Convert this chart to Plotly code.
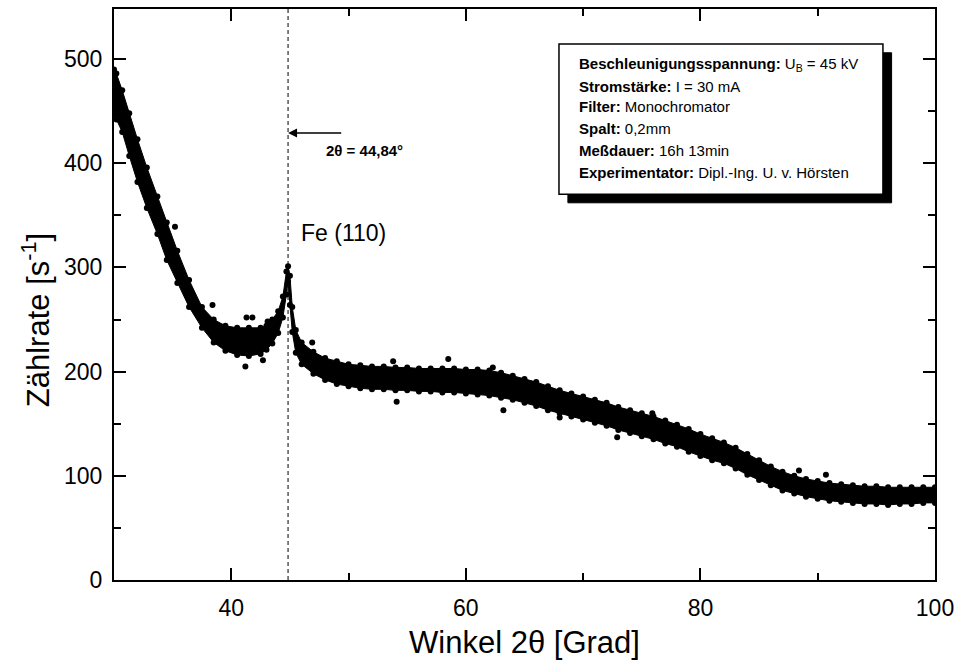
import plotly.graph_objects as go

winkel = [30.0, 30.2, 30.7, 31.3, 32.0, 32.8, 33.7, 34.5, 35.4, 36.4, 37.5, 38.5,
          39.5, 40.5, 41.5, 42.5, 43.0, 43.5, 44.0, 44.4, 44.7, 44.84, 45.0, 45.2,
          45.5, 46, 47, 48, 49, 50, 51, 52, 53, 54, 55, 56, 57, 58, 59, 60, 61, 62,
          63, 64, 65, 66, 67, 68, 69, 70, 71, 72, 73, 74, 75, 76, 77, 78, 79, 80,
          81, 82, 83, 84, 85, 86, 87, 88, 89, 90, 91, 92, 93, 94, 95, 96, 97, 98,
          99, 100]
oben = [490, 486, 470, 448, 423, 396, 368, 343, 316, 288, 262, 250,
        244, 242, 242, 242, 244, 250, 258, 272, 296, 301, 292, 262,
        240, 228, 219, 213, 210, 207, 206, 205, 205, 204, 204, 203, 203, 203, 203, 202, 202, 201,
        199, 196, 193, 190, 186, 182, 179, 176, 173, 170, 166, 163, 160, 157, 153, 149, 145, 140,
        136, 132, 127, 121, 115, 109, 104, 100, 97, 95, 93, 92, 91, 90, 90, 89, 89, 89,
        89, 89]
unten = [447, 442, 430, 407, 382, 357, 332, 307, 285, 262, 242, 228,
         220, 216, 215, 217, 221, 227, 237, 252, 274, 286, 264, 238,
         218, 207, 198, 192, 188, 186, 184, 183, 183, 182, 182, 181, 181, 180, 180, 179, 178, 177,
         175, 173, 170, 167, 163, 160, 157, 154, 151, 148, 144, 141, 138, 135, 131, 128, 123, 119,
         115, 112, 107, 101, 96, 91, 86, 83, 80, 78, 76, 75, 74, 73, 73, 72, 73, 73,
         74, 74]
ausreisser_x = [35.2, 38.4, 41.2, 41.3, 41.8, 43.1, 42.7, 46.9, 53.8, 58.5, 54.1, 63.2,
                62.3, 75.9, 72.9, 68.0, 90.7, 88.4]
ausreisser_y = [339, 264, 205, 252, 252, 248, 211, 228, 210, 212, 171, 163,
                204, 160, 137, 156, 101, 105]

peak_pos = 44.84
x_ticks = [40, 60, 80, 100]
y_ticks = [0, 100, 200, 300, 400, 500]
info_lines = [
    "<b>Beschleunigungsspannung:</b> U<sub>B</sub> = 45 kV",
    "<b>Stromstärke:</b> I = 30 mA",
    "<b>Filter:</b> Monochromator",
    "<b>Spalt:</b> 0,2mm",
    "<b>Meßdauer:</b> 16h 13min",
    "<b>Experimentator:</b> Dipl.-Ing. U. v. Hörsten",
]

FONT = "Liberation Sans, Arial, Helvetica, sans-serif"

fig = go.Figure()
fig.add_trace(go.Scatter(x=winkel, y=unten, mode="lines",
                         line=dict(color="black", width=1), showlegend=False,
                         hoverinfo="skip"))
fig.add_trace(go.Scatter(x=winkel, y=oben, mode="lines", fill="tonexty",
                         fillcolor="black", line=dict(color="black", width=1),
                         showlegend=False, hoverinfo="skip"))
fig.add_trace(go.Scatter(x=winkel + winkel, y=oben + unten, mode="markers",
                         marker=dict(color="black", size=6), showlegend=False))
fig.add_trace(go.Scatter(x=ausreisser_x, y=ausreisser_y, mode="markers",
                         marker=dict(color="black", size=6), showlegend=False))

# dashed marker line at the peak
fig.add_trace(go.Scatter(x=[peak_pos, peak_pos], y=[0, 548], mode="lines",
                         line=dict(color="black", width=1, dash="4px,3px"),
                         showlegend=False, hoverinfo="skip"))

# info box with shadow
fig.add_shape(type="rect", xref="x", yref="y", x0=68.7, x1=96.3, y0=362, y1=506,
              fillcolor="black", line=dict(color="black", width=1), layer="above")
fig.add_shape(type="rect", xref="x", yref="y", x0=67.94, x1=95.56, y0=370.2, y1=514.4,
              fillcolor="white", line=dict(color="black", width=1.5), layer="above")
line_y = [495, 474, 454, 433, 412, 391]
for txt, yy in zip(info_lines, line_y):
    fig.add_annotation(x=69.5, y=yy, xref="x", yref="y", text=txt, showarrow=False,
                       xanchor="left", yanchor="middle",
                       font=dict(family=FONT, size=15, color="black"))

# arrow + label
fig.add_annotation(x=peak_pos, y=429, ax=49.5, ay=429, xref="x", yref="y",
                   axref="x", ayref="y", text="", showarrow=True, arrowhead=2,
                   arrowsize=1.2, arrowwidth=1.5, arrowcolor="black")
fig.add_annotation(x=51.4, y=412, xref="x", yref="y", text="<b>2θ = 44,84°</b>",
                   showarrow=False, font=dict(family=FONT, size=15, color="black"))
fig.add_annotation(x=45.8, y=333, xref="x", yref="y", text="Fe (110)",
                   showarrow=False, xanchor="left",
                   font=dict(family=FONT, size=23, color="black"))

# y axis title as annotation
fig.add_annotation(x=-0.095, y=0.455, xref="paper", yref="paper",
                   xanchor="center", yanchor="middle",
                   text="Zählrate [s<sup>-1</sup>]", textangle=-90, showarrow=False,
                   font=dict(family=FONT, size=31, color="black"))

axis_common = dict(showgrid=False, zeroline=False, showline=True, linecolor="black",
                   linewidth=2, mirror="ticks", ticks="inside", ticklen=12,
                   tickwidth=2, tickcolor="black", automargin=False,
                   tickfont=dict(family=FONT, size=23, color="black"))

fig.update_xaxes(range=[30, 100], tickvals=x_ticks, ticklabelstandoff=6,
                 minor=dict(dtick=10, tick0=0, ticks="inside", ticklen=7, tickwidth=2,
                            tickcolor="black", showgrid=False),
                 title=dict(text="Winkel 2θ [Grad]", font=dict(family=FONT, size=31,
                                                               color="black"),
                            standoff=12),
                 **axis_common)
fig.update_yaxes(range=[0, 548], tickvals=y_ticks, ticklabelstandoff=5,
                 minor=dict(dtick=50, tick0=0, ticks="inside", ticklen=7, tickwidth=2,
                            tickcolor="black", showgrid=False),
                 **axis_common)

fig.update_layout(width=956, height=664, margin=dict(l=114, r=21, t=9, b=84),
                  plot_bgcolor="white", paper_bgcolor="white",
                  font=dict(family=FONT, color="black"), showlegend=False)

fig.write_html("out.html")
